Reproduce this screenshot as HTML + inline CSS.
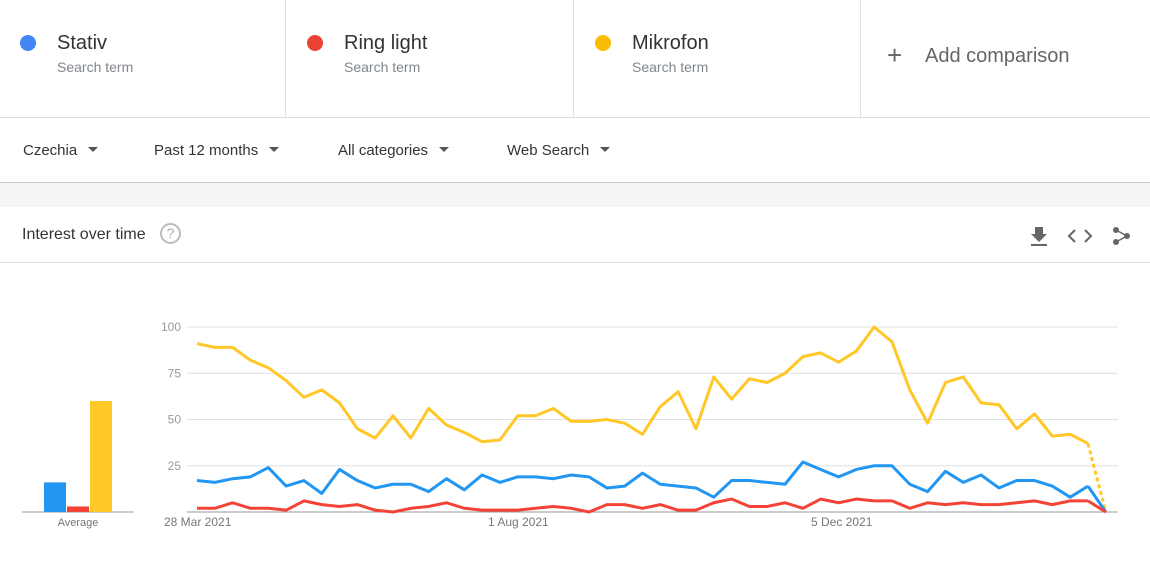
<!DOCTYPE html>
<html><head><meta charset="utf-8"><style>
body{margin:0;width:1150px;height:572px;background:#fff;font-family:"Liberation Sans",Arial,sans-serif;overflow:hidden;position:relative}
.top{position:absolute;left:0;top:0;width:1150px;height:117px;border-bottom:1px solid #e0e0e0}
.term{position:absolute;top:0;height:117px;border-right:1px solid #e0e0e0}
.dot{position:absolute;left:20px;top:35px;width:16px;height:16px;border-radius:50%}
.name{position:absolute;left:57px;top:32px;font-size:20px;color:#333}
.sub{position:absolute;left:57px;top:59px;font-size:14px;color:#80868b}
.filters{position:absolute;top:118px;left:0;width:1150px;height:64px;border-bottom:1px solid #ccc;box-shadow:0 2px 3px rgba(0,0,0,.15)}
.f{position:absolute;top:24px;font-size:15px;color:#333}
.f:after{content:"";display:inline-block;margin-left:11px;border-left:5px solid transparent;border-right:5px solid transparent;border-top:5px solid #555;vertical-align:3px}
.gap{position:absolute;top:183px;left:0;width:1150px;height:24px;background:#f5f5f5}
.title{position:absolute;left:22px;top:226px;font-size:16px;color:#333}
.hr{position:absolute;left:0;top:262px;width:1150px;height:1px;background:#e0e0e0}
</style></head><body>
<div class="top">
<div class="term" style="left:0;width:285px"><div class="dot" style="background:#4285f4"></div><div class="name">Stativ</div><div class="sub">Search term</div></div>
<div class="term" style="left:287px;width:286px"><div class="dot" style="background:#ea4335"></div><div class="name">Ring light</div><div class="sub">Search term</div></div>
<div class="term" style="left:575px;width:285px"><div class="dot" style="background:#fbbc04"></div><div class="name">Mikrofon</div><div class="sub">Search term</div></div>
<div style="position:absolute;left:887px;top:40px;font-size:26px;color:#666;font-weight:300">+</div>
<div style="position:absolute;left:925px;top:45px;font-size:20px;color:#666">Add comparison</div>
</div>
<div class="filters">
<div class="f" style="left:23px">Czechia</div>
<div class="f" style="left:154px">Past 12 months</div>
<div class="f" style="left:338px">All categories</div>
<div class="f" style="left:507px">Web Search</div>
</div>
<div class="gap"></div>
<div class="title">Interest over time</div>
<div style="position:absolute;left:160px;top:223px;width:17px;height:17px;border:2px solid #bbb;border-radius:50%;color:#aaa;font-size:14px;text-align:center;line-height:17px">?</div>
<svg style="position:absolute;left:1028px;top:224px" width="110" height="24">
<path d="M7 3h8v7h4l-8 8-8-8h4z M3 20h16v2H3z" fill="#666"/>
<path d="M47 6l-6 6 6 6M57 6l6 6-6 6" stroke="#666" stroke-width="2" fill="none"/>
<circle cx="99" cy="12" r="3" fill="#666"/><circle cx="88" cy="6" r="3" fill="#666"/><circle cx="88" cy="18" r="3" fill="#666"/>
<path d="M88 6l11 6-11 6" stroke="#666" stroke-width="1.5" fill="none"/>
</svg>
<div class="hr"></div>
<svg id="c" style="position:absolute;left:0;top:0" width="1150" height="572"></svg>
<script>
var s=document.getElementById('c'),h='';
var Y=v=>512-v*1.85,X=i=>197+i*17.82;
[100,75,50,25].forEach(v=>{h+=`<line x1="187" x2="1118" y1="${Y(v)}" y2="${Y(v)}" stroke="#e0e0e0"/><text x="181" y="${Y(v)+4}" text-anchor="end" font-size="12" fill="#999">${v}</text>`});
h+=`<line x1="187" x2="1118" y1="512" y2="512" stroke="#999"/><line x1="22" x2="134" y1="512" y2="512" stroke="#999"/>`;
h+=`<text x="164" y="526" font-size="12" fill="#777">28 Mar 2021</text><text x="488" y="526" font-size="12" fill="#777">1 Aug 2021</text><text x="811" y="526" font-size="12" fill="#777">5 Dec 2021</text><text x="78" y="526" font-size="11" fill="#777" text-anchor="middle">Average</text>`;
h+=`<rect x="44" y="${Y(16)}" width="22" height="${16*1.85}" style="fill:#2196f3"/><rect x="67" y="${Y(3)}" width="22" height="${3*1.85}" fill="#f44336"/><rect x="90" y="${Y(60)}" width="22" height="${60*1.85}" fill="#ffca28"/>`;
var yl=[91,89,89,82,78,71,62,66,59,45,40,52,40,56,47,43,38,39,52,52,56,49,49,50,48,42,57,65,45,73,61,72,70,75,84,86,81,87,100,92,66,48,70,73,59,58,45,53,41,42,37,0];
var bl=[17,16,18,19,24,14,17,10,23,17,13,15,15,11,18,12,20,16,19,19,18,20,19,13,14,21,15,14,13,8,17,17,16,15,27,23,19,23,25,25,15,11,22,16,20,13,17,17,14,8,14,0];
var rd=[2,2,5,2,2,1,6,4,3,4,1,0,2,3,5,2,1,1,1,2,3,2,0,4,4,2,4,1,1,5,7,3,3,5,2,7,5,7,6,6,2,5,4,5,4,4,5,6,4,6,6,0];
function line(d,c,dash){var p=d.slice(0,51).map((v,i)=>X(i)+','+Y(v)).join(' ');
h+=`<polyline points="${p}" fill="none" stroke="${c}" stroke-width="3" stroke-linejoin="round"/>`;
h+=`<line x1="${X(50)}" y1="${Y(d[50])}" x2="${X(51)}" y2="${Y(0)}" stroke="${c}" stroke-width="3" ${dash?'stroke-dasharray="4 3"':''}/>`;}
line(yl,'#ffc727',1);line(bl,'#2196f3',0);line(rd,'#f44336',0);
s.innerHTML=h;
</script>
</body></html>
